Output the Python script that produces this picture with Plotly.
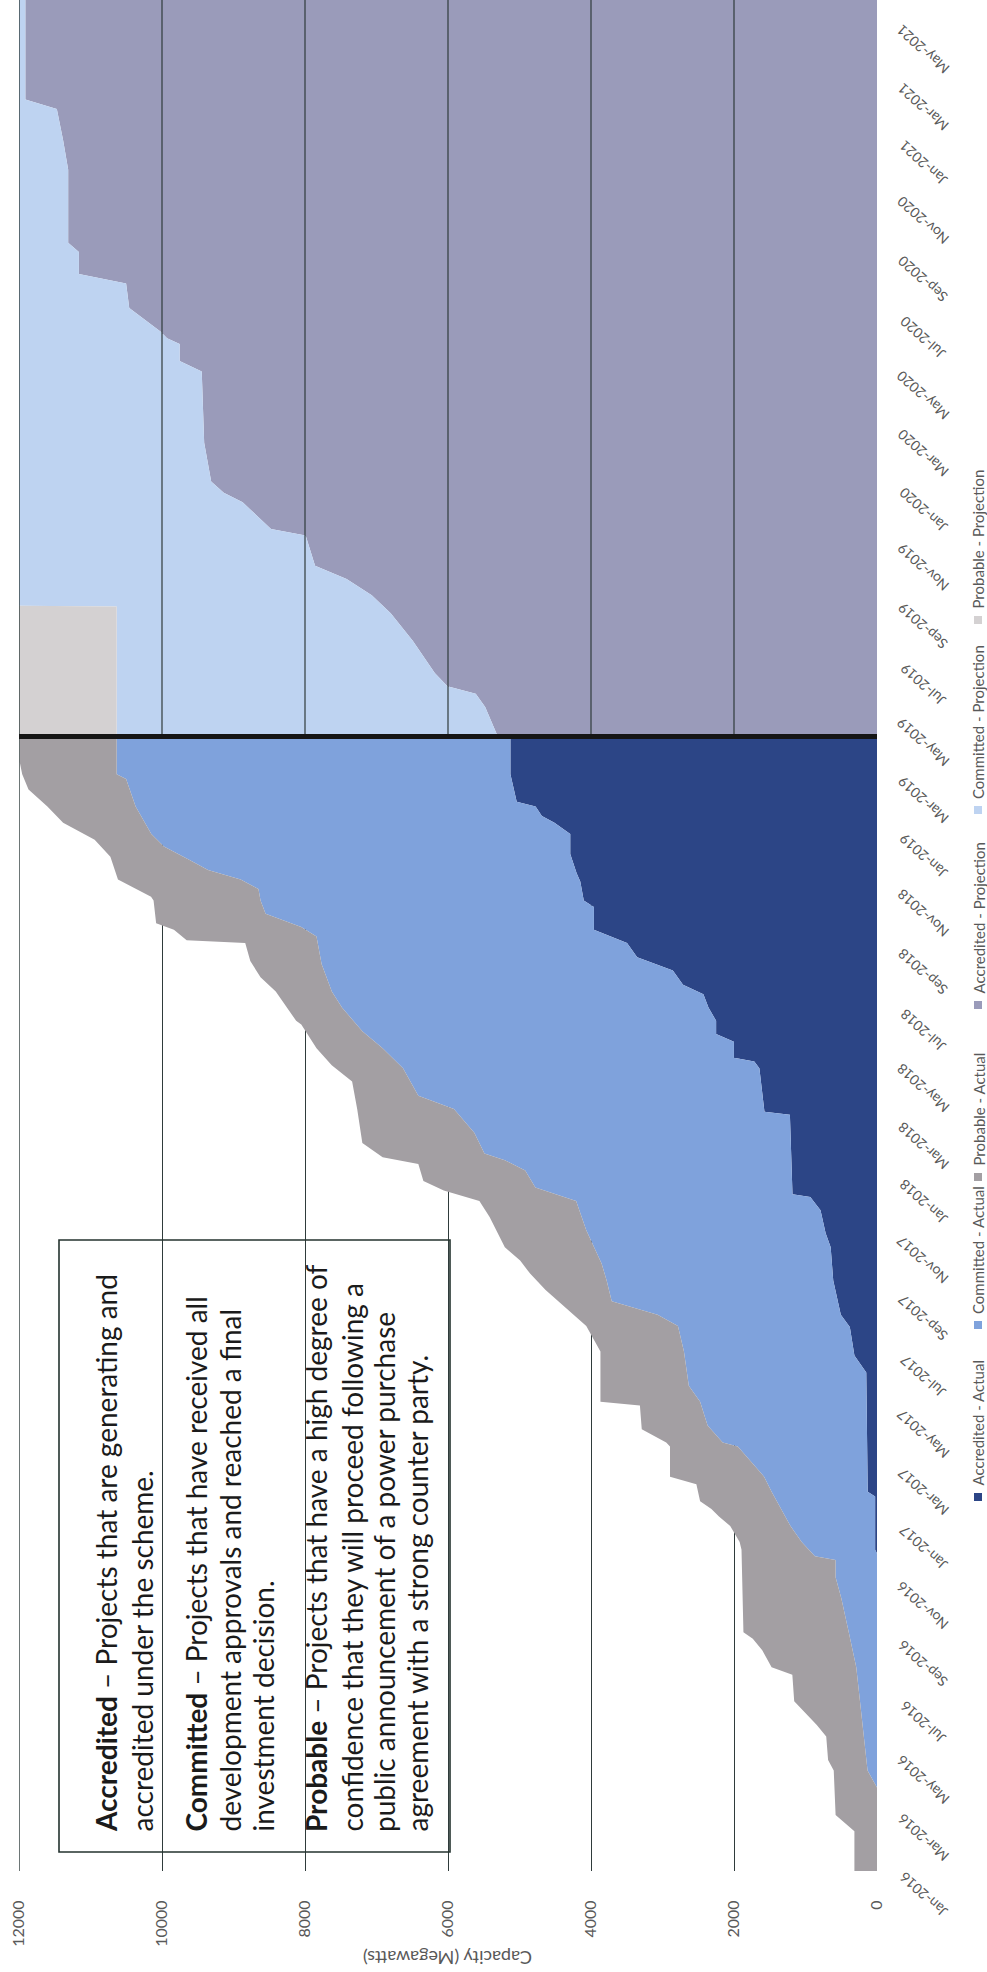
import plotly.graph_objects as go
from datetime import datetime

# ---------------- data (MW, cumulative stack boundaries) ----------------
acc_act_dates = ['2016-01-01','2016-12-01','2016-12-05','2017-01-30','2017-02-04','2017-06-10','2017-06-28',
                 '2017-07-28','2017-08-10','2017-09-15','2017-10-20','2017-11-04','2017-11-28','2017-12-12',
                 '2017-12-15','2018-03-09','2018-03-12','2018-04-27','2018-05-04','2018-05-08','2018-05-25',
                 '2018-06-02','2018-06-16','2018-06-30','2018-07-14','2018-07-24','2018-08-08','2018-08-22',
                 '2018-09-06','2018-09-20','2018-10-14','2018-10-21','2018-11-10','2018-11-19','2018-12-09',
                 '2018-12-30','2019-01-11','2019-01-18','2019-01-28','2019-02-02','2019-03-03','2019-04-11']
acc_act_mw = [0,0,26,26,130,150,316,380,506,612,648,719,790,933,1182,1218,1574,1645,1716,2001,2001,
              2250,2250,2357,2428,2713,2855,3354,3496,3959,3959,4101,4150,4202,4290,4290,4511,4687,
              4775,5039,5127,5127]

com_act_dates = ['2016-01-01','2016-03-29','2016-04-16','2016-05-22','2016-06-28','2016-08-03','2016-09-09',
                 '2016-10-15','2016-11-06','2016-11-24','2016-11-28','2016-12-13','2016-12-30','2017-01-17',
                 '2017-02-04','2017-02-20','2017-03-11','2017-03-24','2017-03-28','2017-04-15','2017-05-10',
                 '2017-05-27','2017-07-02','2017-07-29','2017-08-10','2017-08-24','2017-09-15','2017-10-03',
                 '2017-11-07','2017-12-08','2017-12-22','2018-01-09','2018-01-20','2018-01-27','2018-02-18',
                 '2018-03-02','2018-03-15','2018-03-29','2018-04-27','2018-05-18','2018-06-05','2018-06-30',
                 '2018-07-17','2018-08-15','2018-09-13','2018-09-23','2018-10-07','2018-10-21','2018-11-02',
                 '2018-11-12','2018-11-22','2018-12-03','2018-12-17','2018-12-30','2019-01-28','2019-02-26',
                 '2019-03-03','2019-04-11']
com_act_top_mw = [0,0,132,184,237,290,395,500,579,579,868,1053,1210,1342,1474,1579,1790,1947,2158,2369,
                  2474,2632,2700,2784,3069,3710,3781,3852,4066,4208,4778,4920,5205,5490,5632,5774,5917,
                  6415,6629,6914,7198,7483,7625,7768,7839,8053,8551,8622,8651,8900,9356,9621,9973,10149,
                  10369,10502,10634,10634]

prob_act_dates = ['2016-01-01','2016-02-12','2016-02-29','2016-04-16','2016-04-27','2016-05-22','2016-06-03',
                  '2016-06-28','2016-07-26','2016-08-03','2016-08-21','2016-09-02','2016-09-09','2016-12-05',
                  '2016-12-13','2016-12-30','2017-01-09','2017-01-17','2017-01-25','2017-02-12','2017-02-20',
                  '2017-03-24','2017-03-28','2017-04-11','2017-05-06','2017-05-10','2017-07-02','2017-07-29',
                  '2017-09-05','2017-09-22','2017-10-06','2017-10-20','2017-11-21','2017-12-08','2017-12-19',
                  '2017-12-29','2018-01-16','2018-01-23','2018-02-07','2018-03-15','2018-04-13','2018-04-30',
                  '2018-05-18','2018-06-12','2018-06-16','2018-07-17','2018-08-01','2018-08-18','2018-09-06',
                  '2018-09-09','2018-09-20','2018-09-27','2018-10-21','2018-10-25','2018-11-12','2018-12-06',
                  '2018-12-24','2019-01-11','2019-01-28','2019-02-15','2019-03-03','2019-03-16','2019-04-11']
prob_act_top_mw = [316,316,579,605,684,710,842,1158,1184,1474,1605,1737,1868,1895,1921,2053,2210,2316,
                   2474,2526,2895,2895,2948,3290,3316,3868,3868,4066,4635,4849,4991,5205,5418,5561,6059,
                   6344,6415,6914,7198,7270,7341,7626,7839,8052,8124,8409,8622,8765,8836,9655,9833,10082,
                   10118,10153,10616,10722,10942,11383,11603,11867,11955,11990,11990]

acc_proj_dates = ['2019-04-12','2019-05-13','2019-05-27','2019-06-04','2019-06-18','2019-07-22','2019-08-20',
                  '2019-09-08','2019-09-25','2019-10-09','2019-11-10','2019-11-17','2019-12-15','2019-12-25',
                  '2020-01-06','2020-02-16','2020-05-01','2020-05-12','2020-05-30','2020-06-05','2020-06-12',
                  '2020-07-07','2020-08-02','2020-08-12','2020-09-04','2020-09-14','2020-11-30','2020-12-31',
                  '2021-02-02','2021-02-12','2021-05-28']
acc_proj_mw = [5304,5480,5612,6008,6185,6493,6801,7066,7418,7859,7991,8475,8872,9136,9312,9410,9444,
               9753,9753,9929,10017,10458,10502,11162,11162,11312,11312,11383,11471,11911,11911]

com_proj_dates = ['2019-04-12','2019-08-27','2019-08-28','2021-05-28']
com_proj_top_mw = [10634,10634,12000,12000]

prob_proj_dates = ['2019-04-12','2021-05-28']
prob_proj_top_mw = [12000,12000]

divider_date = '2019-04-12'
date_range = ['2016-01-01', '2021-05-28']
cap_ticks = [0, 2000, 4000, 6000, 8000, 10000, 12000]
date_ticks = ['2016-01-01','2016-03-01','2016-05-01','2016-07-01','2016-09-01','2016-11-01',
              '2017-01-01','2017-03-01','2017-05-01','2017-07-01','2017-09-01','2017-11-01',
              '2018-01-01','2018-03-01','2018-05-01','2018-07-01','2018-09-01','2018-11-01',
              '2019-01-01','2019-03-01','2019-05-01','2019-07-01','2019-09-01','2019-11-01',
              '2020-01-01','2020-03-01','2020-05-01','2020-07-01','2020-09-01','2020-11-01',
              '2021-01-01','2021-03-01','2021-05-01']
legend_names = ['Accredited - Actual', 'Committed - Actual', 'Probable - Actual',
                'Accredited - Projection', 'Committed - Projection', 'Probable - Projection']
colors = ['#2C4586', '#7FA2DC', '#A39FA3', '#9A9BBA', '#BED3F1', '#D4D1D2']

box_lines = ["<b>Accredited</b> – Projects that are generating and",
             "accredited under the scheme.",
             "<b>Committed</b> – Projects that have received all",
             "development approvals and reached a final",
             "investment decision.",
             "<b>Probable</b> – Projects that have a high degree of",
             "confidence that they will proceed following a",
             "public announcement of a power purchase",
             "agreement with a strong counter party."]

# ---------------- layout geometry (pixels) ----------------
W, H = 987, 1972
PL, PR, PB = 19, 877, 1871        # plot left, right, bottom (top = 0)
PW = PR - PL
FONT = 'Lato, Carlito, Calibri, sans-serif'
GRID = '#2F3B3B'
LABEL = '#595959'


def px_x(x):
    return (x - PL) / PW


def px_y(y):
    return (PB - y) / PB


fig = go.Figure()
series = [
    (acc_act_mw, acc_act_dates, 'tozerox'),
    (com_act_top_mw, com_act_dates, 'tonextx'),
    (prob_act_top_mw, prob_act_dates, 'tonextx'),
    (acc_proj_mw, acc_proj_dates, 'tozerox'),
    (com_proj_top_mw, com_proj_dates, 'tonextx'),
    (prob_proj_top_mw, prob_proj_dates, 'tonextx'),
]
for (xs, ys, fill), name, col in zip(series, legend_names, colors):
    fig.add_trace(go.Scatter(x=xs, y=ys, mode='lines', name=name, fill=fill, fillcolor=col,
                             line=dict(width=0, color=col), showlegend=False, hoverinfo='skip'))

shapes = []
# gridlines visible over the projection area
for v in cap_ticks[1:-1]:
    shapes.append(dict(type='line', xref='x', yref='y', x0=v, x1=v, y0=divider_date, y1=date_range[1],
                       line=dict(color=GRID, width=1.2), layer='above'))
shapes.append(dict(type='line', xref='x', yref='paper', x0=12000, x1=12000, y0=0, y1=1,
                   line=dict(color=GRID, width=1.4), layer='above'))
# divider between actual and projection
shapes.append(dict(type='line', xref='paper', yref='y', x0=0, x1=1, y0=divider_date, y1=divider_date,
                   line=dict(color='#151515', width=5), layer='above'))
# definition box
shapes.append(dict(type='rect', xref='paper', yref='paper', x0=px_x(59), x1=px_x(450),
                   y0=px_y(1852), y1=px_y(1240), line=dict(color='#24332f', width=1.6),
                   fillcolor='rgba(0,0,0,0)', layer='above'))

annotations = []
# date labels (rotated as on the page)
for d in date_ticks:
    lab = datetime.strptime(d, '%Y-%m-%d').strftime('%b-%Y')
    annotations.append(dict(x=px_x(923), xref='paper', y=d, yref='y', yshift=-24, text=lab,
                            textangle=-138, showarrow=False, xanchor='center', yanchor='middle',
                            font=dict(family=FONT, size=14, color=LABEL)))
# axis title
annotations.append(dict(x=0.5, xref='paper', y=px_y(1958), yref='paper', text='Capacity (Megawatts)',
                        textangle=180, showarrow=False, xanchor='center', yanchor='middle',
                        font=dict(family=FONT, size=18, color=LABEL)))
# legend
legend_y = [1497, 1325, 1177, 1005, 810, 620]
for name, col, my in zip(legend_names, colors, legend_y):
    shapes.append(dict(type='rect', xref='paper', yref='paper', x0=px_x(974), x1=px_x(982),
                       y0=px_y(my + 4), y1=px_y(my - 4), line=dict(width=0), fillcolor=col))
    annotations.append(dict(x=px_x(978), xref='paper', y=px_y(my - 9), yref='paper', text=name,
                            textangle=-90, showarrow=False, xanchor='center', yanchor='bottom',
                            font=dict(family=FONT, size=15, color=LABEL)))
# definition text
line_x = [106, 141, 195, 229, 262, 316, 351, 384, 416]
for t, lx in zip(box_lines, line_x):
    annotations.append(dict(x=px_x(lx), xref='paper', y=px_y(1834), yref='paper', text=t,
                            textangle=-90, showarrow=False, xanchor='center', yanchor='bottom',
                            font=dict(family=FONT, size=28, color='#1b1b1b')))

fig.update_layout(
    width=W, height=H, margin=dict(l=PL, r=W - PR, t=0, b=H - PB),
    paper_bgcolor='white', plot_bgcolor='white',
    xaxis=dict(range=[12000, 0], tickvals=cap_ticks, ticktext=[str(v) for v in cap_ticks],
               tickangle=-90, showgrid=True, gridcolor=GRID, gridwidth=1.2, zeroline=False,
               showline=False, ticks='outside', ticklen=22, tickcolor='rgba(0,0,0,0)',
               tickfont=dict(family=FONT, size=16, color=LABEL)),
    yaxis=dict(type='date', range=date_range, showgrid=False, zeroline=False, showline=False,
               showticklabels=False, ticks=''),
    shapes=shapes, annotations=annotations, showlegend=False,
)

fig.write_html('out.html')
